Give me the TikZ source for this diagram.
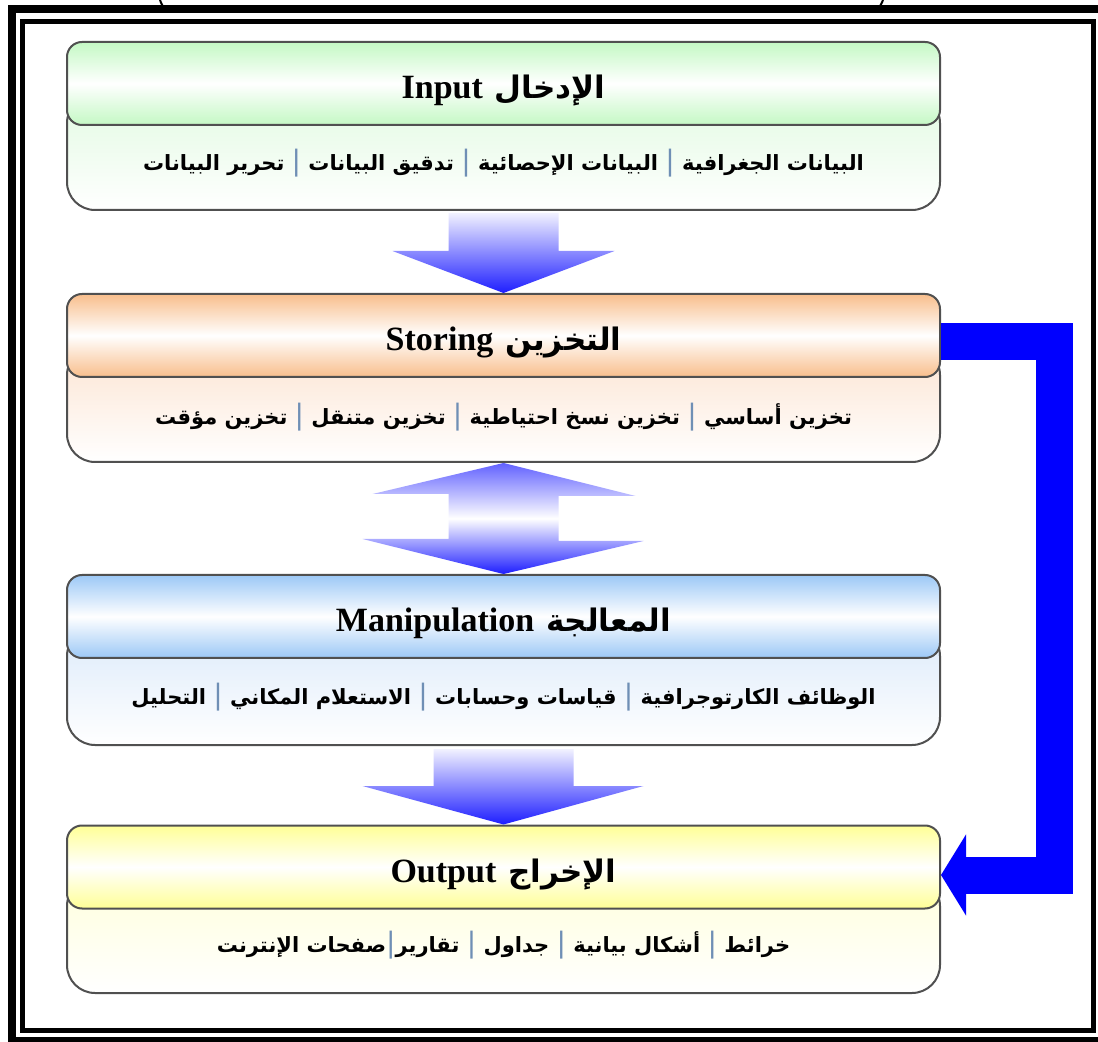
\documentclass[tikz,border=0pt]{standalone}
\usepackage{fontspec}
\setmainfont{Liberation Serif}
\newfontfamily\arabicfont[Script=Arabic]{DejaVu Sans}
\newfontfamily\barfont[Color=6F8FB5]{DejaVu Sans}
\TeXXeTstate=1
\usetikzlibrary{calc, arrows.meta}

\definecolor{edgegray}{HTML}{505050}
\definecolor{flowblue}{HTML}{1E1EFF}
\definecolor{greenhead}{HTML}{C4F8C4}
\definecolor{greenbody}{HTML}{E2FAE2}
\definecolor{orangehead}{HTML}{F8BE8C}
\definecolor{orangebody}{HTML}{FCE4D2}
\definecolor{bluehead}{HTML}{9CC8F6}
\definecolor{bluebody}{HTML}{DCEAFA}
\definecolor{yellowhead}{HTML}{FFFF96}
\definecolor{yellowbody}{HTML}{FFFFDC}

\newcommand{\sepbar}{{\barfont\mdseries\fontsize{14}{16}\selectfont|}}
\newcommand{\artitle}[2]{{\bfseries\arabicfont\beginR{\fontsize{15.5}{18}\selectfont #1} \beginL{\rmfamily #2}\endL\endR}}
\newcommand{\arline}[1]{{\arabicfont\beginR #1\endR}}

\begin{document}
\begin{tikzpicture}[x=0.5pt, y=-0.5pt,
       head/.style = {rectangle, draw=edgegray, line width=1pt, rounded corners=7.5pt,
                      minimum width=436.5pt, minimum height=41.5pt,
                      text height=15pt, text depth=0pt,
                      font=\fontsize{17}{20}\selectfont},
       body/.style = {rectangle, draw=edgegray, line width=1pt, rounded corners=14pt,
                      minimum width=436.5pt, minimum height=57.5pt},
      words/.style = {inner sep=0pt, font=\fontsize{10.5}{13}\selectfont\bfseries},
       flow/.style = {top color=flowblue!6, bottom color=flowblue},
     flowtwo/.style = {top color=flowblue!70, bottom color=flowblue, middle color=white},
   feedback/.style = {draw=blue, line width=18.5pt,
                      -{Triangle[length=12.5pt, width=40pt]}}
                    ]
\useasboundingbox (0,0) rectangle (1098,1042);
\fill[white] (0,0) rectangle (1098,1042);

% frame
\draw[line width=1pt] (160,0) .. controls (163,9) and (167,12) .. (176,10)
   -- (868,10) .. controls (876,12) and (880,8) .. (883,0);
\draw[line width=4pt] (12,9) rectangle (1112,1041);
\draw[line width=2.5pt] (22.5,21.5) rectangle (1093,1030.5);

% stages
\node (inbody) [body, top color=greenbody, bottom color=white] at (503.5,152.5) {};
\node (inhead) [head, top color=greenhead, bottom color=greenhead, middle color=white]
      at (503.5,83.5) {\artitle{الإدخال}{Input}};
\node (intext) [words] at (503.5,163)
      {\arline{البيانات الجغرافية \sepbar{} البيانات الإحصائية \sepbar{} تدقيق البيانات \sepbar{} تحرير البيانات}};

\node (stbody) [body, top color=orangebody, bottom color=white] at (503.5,404.5) {};
\node (sthead) [head, top color=orangehead, bottom color=orangehead, middle color=white]
      at (503.5,335.5) {\artitle{التخزين}{Storing}};
\node (sttext) [words] at (503.5,417)
      {\arline{تخزين أساسي \sepbar{} تخزين نسخ احتياطية \sepbar{} تخزين متنقل \sepbar{} تخزين مؤقت}};

\node (mabody) [body, top color=bluebody, bottom color=white, minimum height=58.5pt] at (503.5,686.5) {};
\node (mahead) [head, top color=bluehead, bottom color=bluehead, middle color=white]
      at (503.5,616.5) {\artitle{المعالجة}{Manipulation}};
\node (matext) [words] at (503.5,697)
      {\arline{الوظائف الكارتوجرافية \sepbar{} قياسات وحسابات \sepbar{} الاستعلام المكاني \sepbar{} التحليل}};

\node (outbody) [body, top color=yellowbody, bottom color=white] at (503.5,935.5) {};
\node (outhead) [head, top color=yellowhead, bottom color=yellowhead, middle color=white]
      at (503.5,867) {\artitle{الإخراج}{Output}};
\node (outtext) [words] at (503.5,945)
      {\arline{خرائط \sepbar{} أشكال بيانية \sepbar{} جداول \sepbar{} تقارير\sepbar صفحات الإنترنت}};

% block arrows
\shade[flow] ($(inbody.south)+(-55,2)$) -- ++(110,0) -- ++(0,38) -- ++(56,0)
   -- (sthead.north) -- ($(inbody.south)+(-111,40)$) -- ++(56,0) -- cycle;
\shade[flowtwo] (stbody.south) -- ($(stbody.south)+(132,33)$) -- ++(-77,0) -- ++(0,45)
   -- ++(85,0) -- (mahead.north) -- ($(mahead.north)+(-141,-35)$) -- ++(86,0)
   -- ++(0,-45) -- ++(-76,0) -- cycle;
\shade[flow] ($(mabody.south)+(-70,3)$) -- ++(140,0) -- ++(0,37) -- ++(70,0)
   -- (outhead.north) -- ($(mabody.south)+(-141,40)$) -- ++(71,0) -- cycle;

% feedback
\draw[feedback] ($(sthead.east)+(0,6)$) -- ++(113,0) |- ($(outhead.east)+(0,8)$);
\end{tikzpicture}
\end{document}
